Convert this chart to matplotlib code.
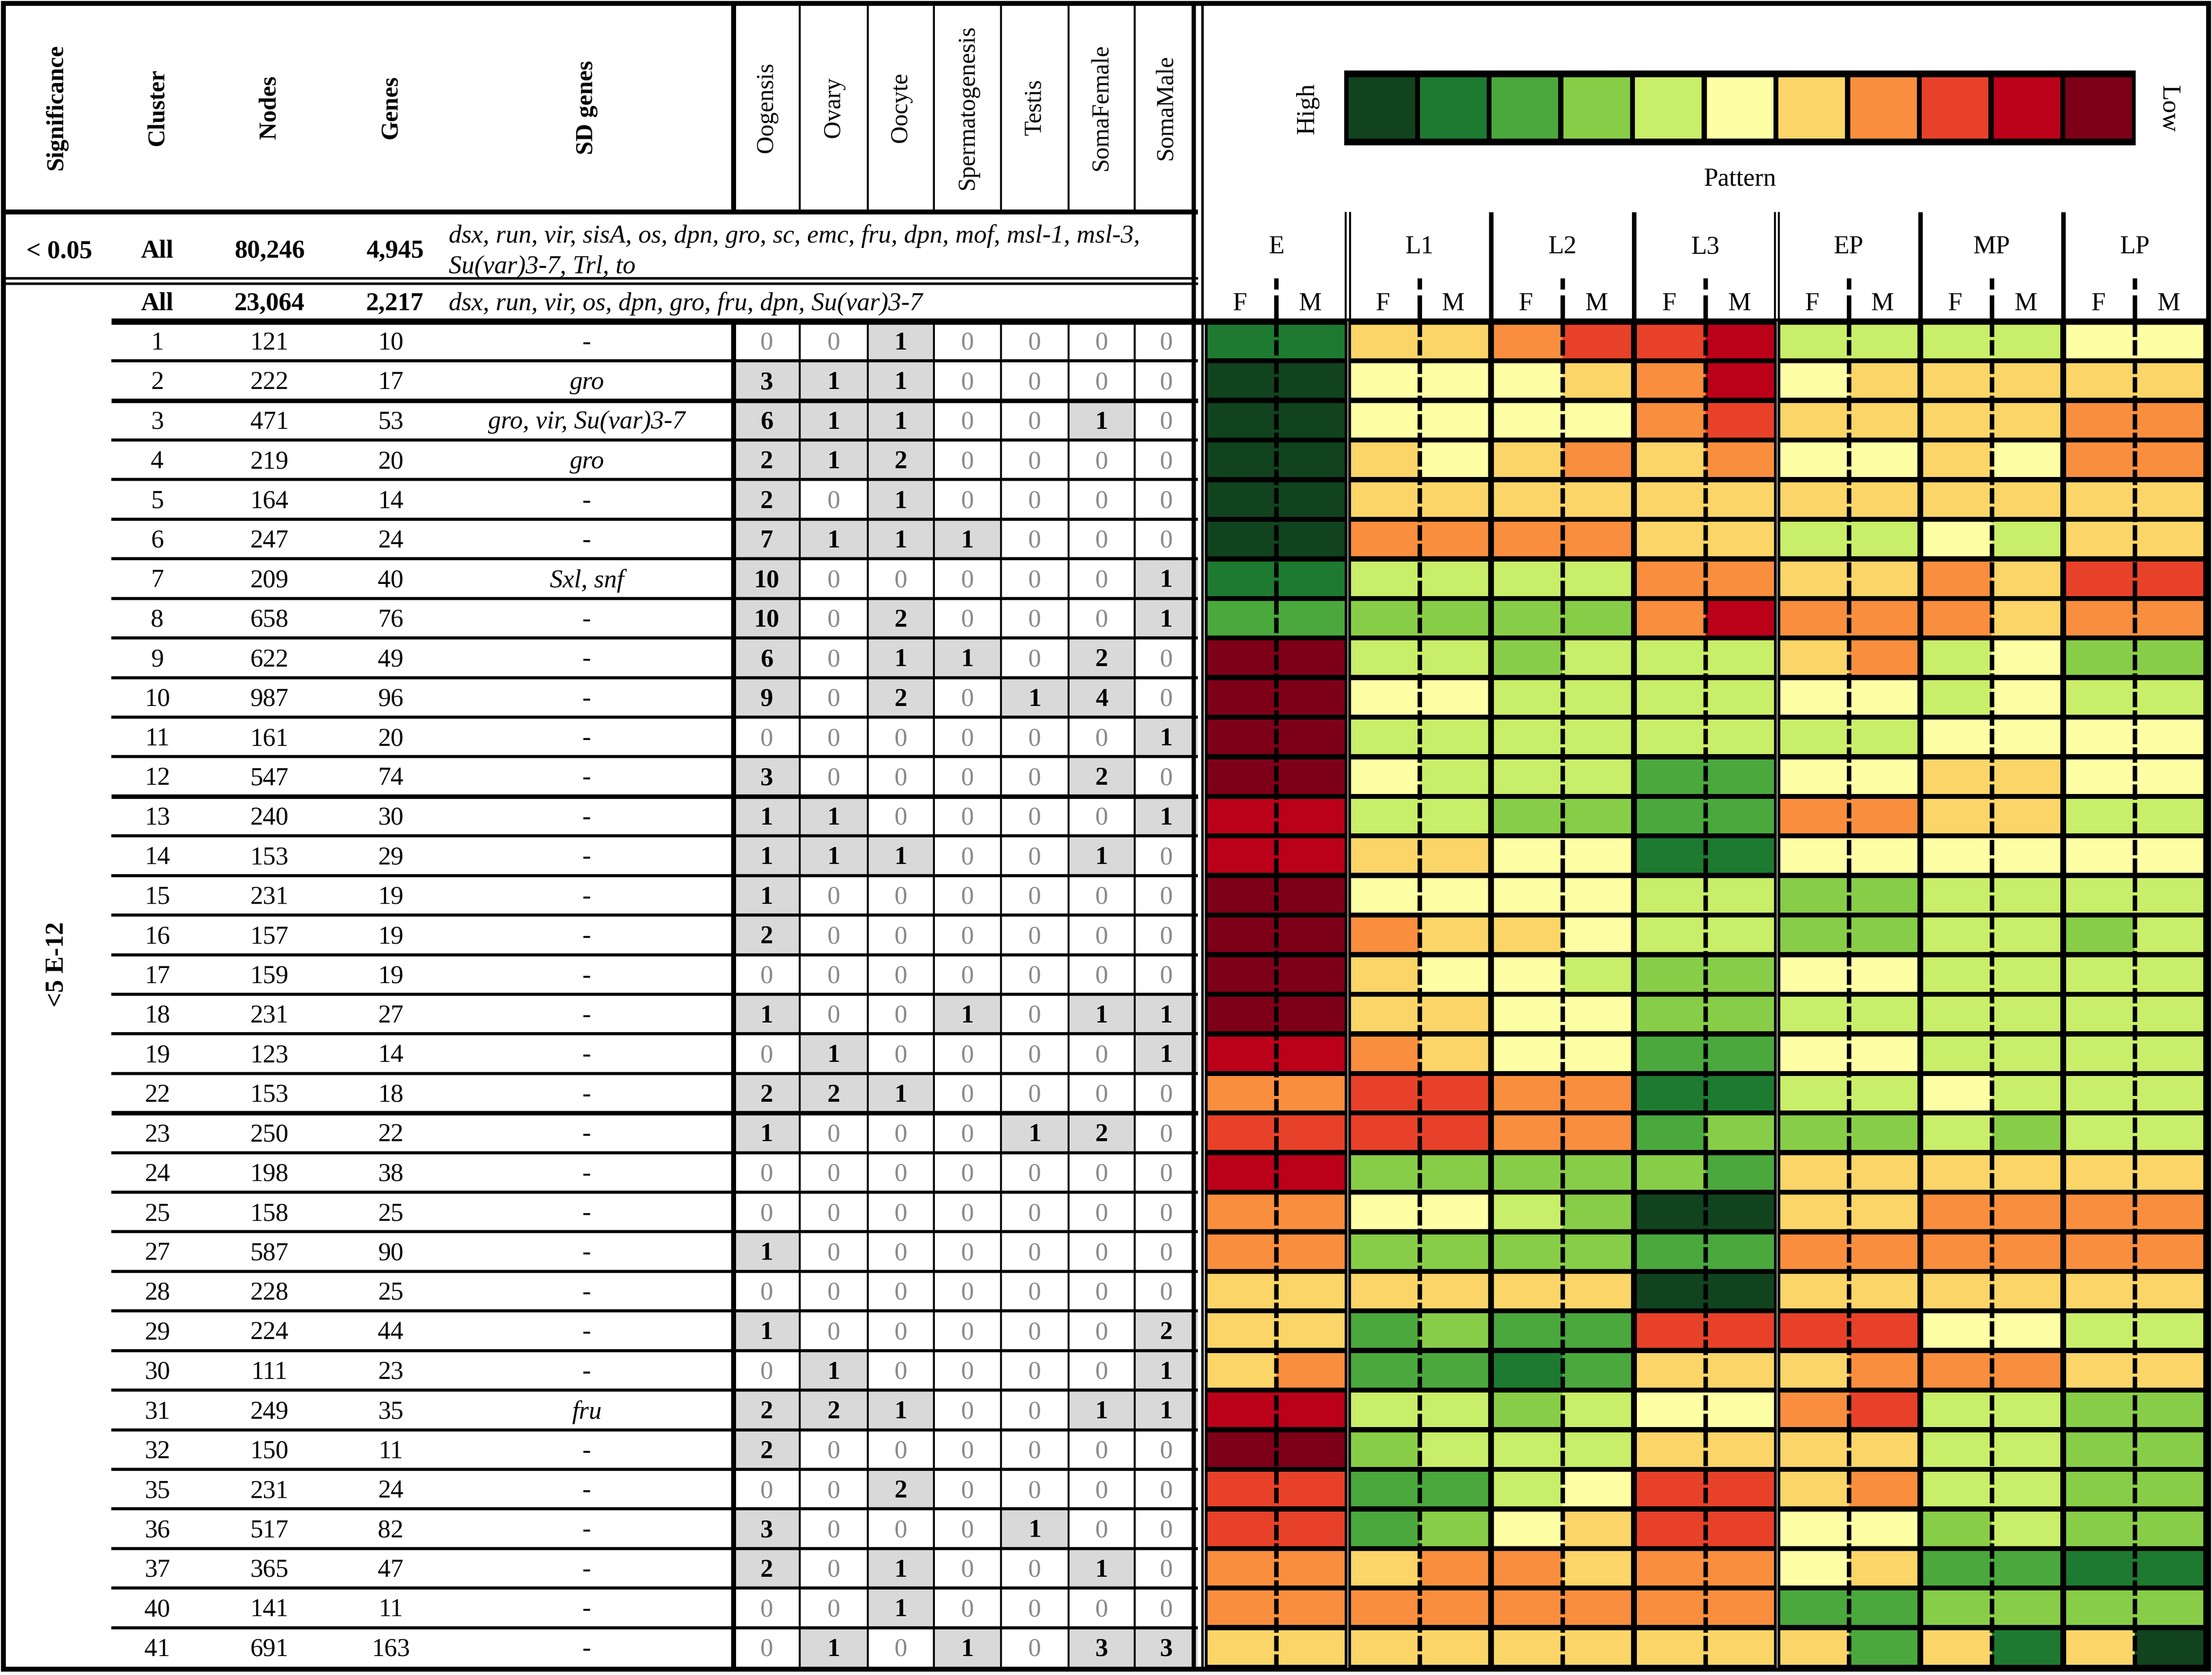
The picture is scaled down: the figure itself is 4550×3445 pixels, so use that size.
import matplotlib.pyplot as plt
from matplotlib.patches import Rectangle

plt.rcParams['font.family'] = ['Liberation Serif', 'DejaVu Serif']

# ---- table data ----
clusters = ['1', '2', '3', '4', '5', '6', '7', '8', '9', '10', '11', '12', '13', '14', '15', '16', '17',
            '18', '19', '22', '23', '24', '25', '27', '28', '29', '30', '31', '32', '35', '36', '37', '40', '41']
nodes = [121, 222, 471, 219, 164, 247, 209, 658, 622, 987, 161, 547, 240, 153, 231, 157, 159,
         231, 123, 153, 250, 198, 158, 587, 228, 224, 111, 249, 150, 231, 517, 365, 141, 691]
genes = [10, 17, 53, 20, 14, 24, 40, 76, 49, 96, 20, 74, 30, 29, 19, 19, 19,
         27, 14, 18, 22, 38, 25, 90, 25, 44, 23, 35, 11, 24, 82, 47, 11, 163]
sd_genes = ['-', 'gro', 'gro, vir, Su(var)3-7', 'gro', '-', '-', 'Sxl, snf', '-', '-', '-', '-', '-', '-', '-',
            '-', '-', '-', '-', '-', '-', '-', '-', '-', '-', '-', '-', '-', 'fru', '-', '-', '-', '-', '-', '-']

count_labels = ['Oogensis', 'Ovary', 'Oocyte', 'Spermatogenesis', 'Testis', 'SomaFemale', 'SomaMale']
oogensis = [0, 3, 6, 2, 2, 7, 10, 10, 6, 9, 0, 3, 1, 1, 1, 2, 0, 1, 0, 2, 1, 0, 0, 1, 0, 1, 0, 2, 2, 0, 3, 2, 0, 0]
ovary = [0, 1, 1, 1, 0, 1, 0, 0, 0, 0, 0, 0, 1, 1, 0, 0, 0, 0, 1, 2, 0, 0, 0, 0, 0, 0, 1, 2, 0, 0, 0, 0, 0, 1]
oocyte = [1, 1, 1, 2, 1, 1, 0, 2, 1, 2, 0, 0, 0, 1, 0, 0, 0, 0, 0, 1, 0, 0, 0, 0, 0, 0, 0, 1, 0, 2, 0, 1, 1, 0]
spermatogenesis = [0, 0, 0, 0, 0, 1, 0, 0, 1, 0, 0, 0, 0, 0, 0, 0, 0, 1, 0, 0, 0, 0, 0, 0, 0, 0, 0, 0, 0, 0, 0, 0, 0, 1]
testis = [0, 0, 0, 0, 0, 0, 0, 0, 0, 1, 0, 0, 0, 0, 0, 0, 0, 0, 0, 0, 1, 0, 0, 0, 0, 0, 0, 0, 0, 0, 1, 0, 0, 0]
soma_female = [0, 0, 1, 0, 0, 0, 0, 0, 2, 4, 0, 2, 0, 1, 0, 0, 0, 1, 0, 0, 2, 0, 0, 0, 0, 0, 0, 1, 0, 0, 0, 1, 0, 3]
soma_male = [0, 0, 0, 0, 0, 0, 1, 1, 0, 0, 1, 0, 1, 0, 0, 0, 0, 1, 1, 0, 0, 0, 0, 0, 0, 2, 1, 1, 0, 0, 0, 0, 0, 3]
counts = [oogensis, ovary, oocyte, spermatogenesis, testis, soma_female, soma_male]

summary_sig = ['< 0.05', '']
summary_cluster = ['All', 'All']
summary_nodes = ['80,246', '23,064']
summary_genes = ['4,945', '2,217']
summary_sd = [['dsx, run, vir, sisA, os, dpn, gro, sc, emc, fru, dpn, mof, msl-1, msl-3,',
               'Su(var)3-7, Trl, to'],
              ['dsx, run, vir, os, dpn, gro, fru, dpn, Su(var)3-7']]
group_sig = '<5 E-12'

# ---- expression pattern levels (0 = High ... 10 = Low), (F, M) per cluster ----
stages = ['E', 'L1', 'L2', 'L3', 'EP', 'MP', 'LP']
pat_E = [(1, 1), (0, 0), (0, 0), (0, 0), (0, 0), (0, 0), (1, 1), (2, 2), (10, 10), (10, 10), (10, 10), (10, 10),
         (9, 9), (9, 9), (10, 10), (10, 10), (10, 10), (10, 10), (9, 9), (7, 7), (8, 8), (9, 9), (7, 7), (7, 7),
         (6, 6), (6, 6), (6, 7), (9, 9), (10, 10), (8, 8), (8, 8), (7, 7), (7, 7), (6, 6)]
pat_L1 = [(6, 6), (5, 5), (5, 5), (6, 5), (6, 6), (7, 7), (4, 4), (3, 3), (4, 4), (5, 5), (4, 4), (5, 4),
          (4, 4), (6, 6), (5, 5), (7, 6), (6, 5), (6, 6), (7, 6), (8, 8), (8, 8), (3, 3), (5, 5), (3, 3),
          (6, 6), (2, 3), (2, 2), (4, 4), (3, 4), (2, 2), (2, 3), (6, 7), (7, 7), (6, 6)]
pat_L2 = [(7, 8), (5, 6), (5, 5), (6, 7), (6, 6), (7, 7), (4, 4), (3, 3), (3, 4), (4, 4), (4, 4), (4, 4),
          (3, 3), (5, 5), (5, 5), (6, 5), (5, 4), (5, 5), (5, 5), (7, 7), (7, 7), (3, 3), (4, 3), (3, 3),
          (6, 6), (2, 2), (1, 2), (3, 4), (4, 4), (4, 5), (5, 6), (7, 6), (7, 7), (6, 6)]
pat_L3 = [(8, 9), (7, 9), (7, 8), (6, 7), (6, 6), (6, 6), (7, 7), (7, 9), (4, 4), (4, 4), (4, 4), (2, 2),
          (2, 2), (1, 1), (4, 4), (4, 4), (3, 3), (3, 3), (2, 2), (1, 1), (2, 3), (3, 2), (0, 0), (2, 2),
          (0, 0), (8, 8), (6, 6), (5, 5), (6, 6), (8, 8), (8, 8), (7, 7), (7, 7), (6, 6)]
pat_EP = [(4, 4), (5, 6), (6, 6), (5, 5), (6, 6), (4, 4), (6, 6), (7, 7), (6, 7), (5, 5), (4, 4), (5, 5),
          (7, 7), (5, 5), (3, 3), (3, 3), (5, 5), (4, 4), (5, 5), (4, 4), (3, 3), (6, 6), (6, 6), (7, 7),
          (6, 6), (8, 8), (6, 7), (7, 8), (6, 6), (6, 7), (5, 5), (5, 6), (2, 2), (6, 2)]
pat_MP = [(4, 4), (6, 6), (6, 6), (6, 5), (6, 6), (5, 4), (7, 6), (7, 6), (4, 5), (4, 5), (5, 5), (6, 6),
          (6, 6), (5, 5), (4, 4), (4, 4), (4, 4), (4, 4), (4, 4), (5, 4), (4, 3), (6, 6), (7, 7), (7, 7),
          (6, 6), (5, 5), (7, 7), (4, 4), (4, 4), (4, 4), (3, 4), (2, 2), (3, 3), (6, 1)]
pat_LP = [(5, 5), (6, 6), (7, 7), (7, 7), (6, 6), (6, 6), (8, 8), (7, 7), (3, 3), (4, 4), (5, 5), (5, 5),
          (4, 4), (5, 5), (4, 4), (3, 4), (4, 4), (4, 4), (4, 4), (4, 4), (4, 4), (6, 6), (7, 7), (7, 7),
          (6, 6), (4, 4), (6, 6), (3, 3), (3, 3), (3, 3), (3, 3), (1, 1), (3, 3), (6, 0)]
patterns = [pat_E, pat_L1, pat_L2, pat_L3, pat_EP, pat_MP, pat_LP]

palette = ['#10431e', '#1d7a30', '#4aa83d', '#88cd47', '#c9ee69', '#fefea5',
           '#fbd568', '#f98e3e', '#e8412a', '#bb0019', '#7e0018']

# ---- layout (units of a 1568 x 1186 grid, stretched to the output size) ----
W, H = 1568, 1186
PX = 4550 / W * 72 / 100   # points per grid unit
FS = 38
n = len(clusters)
top, bottom = 227.5, 1180.5
pitch = (bottom - top) / n
row_y = [top + (i + 0.5) * pitch + 1.5 for i in range(n)]

x_sig, x_clu, x_nod, x_gen, x_sd = 40, 111.5, 191, 277, 416
cnt_edges = [520, 567, 615, 662, 709.5, 757.5, 804.5, 849]
cnt_x = [(cnt_edges[k] + cnt_edges[k + 1]) / 2 for k in range(7)]
hm_left, hm_right = 854, 1564
gw = (hm_right - hm_left) / len(stages)

fig = plt.figure(figsize=(45.5, 34.45), dpi=100)
ax = fig.add_axes([0, 0, 1, 1])
ax.set_xlim(0, W)
ax.set_ylim(H, 0)
ax.axis('off')


def line(x, y, w, **kw):
    ax.plot(x, y, color='black', lw=w * PX, solid_capstyle='butt', **kw)


# header labels
for x, lab in zip([x_sig, x_clu, x_nod, x_gen, x_sd], ['Significance', 'Cluster', 'Nodes', 'Genes', 'SD genes']):
    ax.text(x, 76, lab, rotation=90, ha='center', va='center', fontsize=36, fontweight='bold')
for x, lab in zip(cnt_x, count_labels):
    ax.text(x, 76, lab, rotation=90, ha='center', va='center', fontsize=36)

# summary rows
sum_y = [178, 215]
for k in range(2):
    y = sum_y[k]
    ax.text(42, y, summary_sig[k], ha='center', va='center', fontsize=FS, fontweight='bold')
    ax.text(x_clu, y, summary_cluster[k], ha='center', va='center', fontsize=FS, fontweight='bold')
    ax.text(x_nod, y, summary_nodes[k], ha='center', va='center', fontsize=FS, fontweight='bold')
    ax.text(x_gen + 3, y, summary_genes[k], ha='center', va='center', fontsize=FS, fontweight='bold')
    lines = summary_sd[k]
    for j, t in enumerate(lines):
        yy = y if len(lines) == 1 else y - 11 + 22 * j
        ax.text(318, yy, t, ha='left', va='center', fontsize=FS, style='italic')
ax.text(x_sig, 683, group_sig, rotation=90, ha='center', va='center', fontsize=FS, fontweight='bold')

# data rows of the table
for i in range(n):
    y = row_y[i]
    ax.text(x_clu, y, clusters[i], ha='center', va='center', fontsize=FS)
    ax.text(x_nod, y, f'{nodes[i]}', ha='center', va='center', fontsize=FS)
    ax.text(x_gen, y, f'{genes[i]}', ha='center', va='center', fontsize=FS)
    ax.text(x_sd, y, sd_genes[i], ha='center', va='center', fontsize=FS,
            style='normal' if sd_genes[i] == '-' else 'italic')
    for k in range(7):
        v = counts[k][i]
        if v > 0:
            ax.add_patch(Rectangle((cnt_edges[k], top + i * pitch), cnt_edges[k + 1] - cnt_edges[k], pitch,
                                   facecolor='#d9d9d9', edgecolor='none', zorder=0))
            ax.text(cnt_x[k], y, str(v), ha='center', va='center', fontsize=FS, fontweight='bold')
        else:
            ax.text(cnt_x[k], y, str(v), ha='center', va='center', fontsize=FS, color='#8a8a8a')

# table lines
line([3, 849], [150, 150], 3.5)
line([3, 849], [197, 197], 1.8)
line([3, 849], [200.8, 200.8], 1.8)
line([79, 1565], [top, top], 4.5)
for i in range(1, n):
    yb = top + i * pitch
    line([79, 849], [yb, yb], 3.2 if clusters[i] in ('3', '13', '23') else 2.2)
for k, e in enumerate(cnt_edges[:-1]):
    w = 3.5 if k == 0 else 1.4
    line([e, e], [3, 150], w)
    line([e, e], [top, bottom], w)
line([846, 846], [3, 1182], 3.0)
line([852.3, 852.3], [3, 1182], 1.8)

# heatmap
bar = 3.6
sep = 4.2
ax.add_patch(Rectangle((hm_left, top), hm_right - hm_left, bottom - top, facecolor='black', edgecolor='none'))
for g, pat in enumerate(patterns):
    gx = hm_left + g * gw
    for i in range(n):
        y0 = top + i * pitch + bar / 2
        for s in range(2):
            x0 = gx + sep / 2 if s == 0 else gx + gw / 2
            ax.add_patch(Rectangle((x0, y0), gw / 2 - sep / 2, pitch - bar,
                                   facecolor=palette[pat[i][s]], edgecolor='none'))
    cx = gx + gw / 2
    ax.plot([cx, cx], [top, bottom], color='black', lw=3.2 * PX, linestyle=(0, (3.4, 0.7)))
    ax.text(cx, 175, stages[g], ha='center', va='center', fontsize=FS)
    ax.text(cx - 26, 215, 'F', ha='center', va='center', fontsize=FS)
    ax.text(cx + 24, 215, 'M', ha='center', va='center', fontsize=FS)
    line([cx, cx], [197, 205], 3.2)
    line([cx, cx], [209, top], 3.2)
for g in range(1, len(stages)):
    bx = hm_left + g * gw
    if stages[g] in ('L1', 'EP'):
        line([bx - 1.4, bx - 1.4], [150, top], 1.4)
        line([bx + 1.4, bx + 1.4], [150, top], 1.4)
        ax.plot([bx, bx], [top, bottom], color='#fefbd8', lw=0.5 * PX, zorder=3)
    else:
        line([bx, bx], [150, top], 3.2)

# colour key
key_l, key_r, key_t, key_b = 953, 1514, 50, 103
ax.add_patch(Rectangle((key_l, key_t), key_r - key_l, key_b - key_t, facecolor='black', edgecolor='none'))
cw = (key_r - key_l - 2) / len(palette)
ax.bar([key_l + 1 + (j + 0.5) * cw for j in range(len(palette))], key_b - key_t - 9.5,
       width=cw - 3.6, bottom=key_t + 4.7, color=palette, edgecolor='none')
ax.text(927, 77, 'High', rotation=90, ha='center', va='center', fontsize=FS)
ax.text(1537, 77, 'Low', rotation=270, ha='center', va='center', fontsize=FS)
ax.text((key_l + key_r) / 2, 127, 'Pattern', ha='center', va='center', fontsize=FS)

# outer frame
ax.add_patch(Rectangle((2.5, 2.5), 1563, 1179.5, facecolor='none', edgecolor='black', lw=3.5 * PX))

fig.savefig('out.png', dpi=100)
